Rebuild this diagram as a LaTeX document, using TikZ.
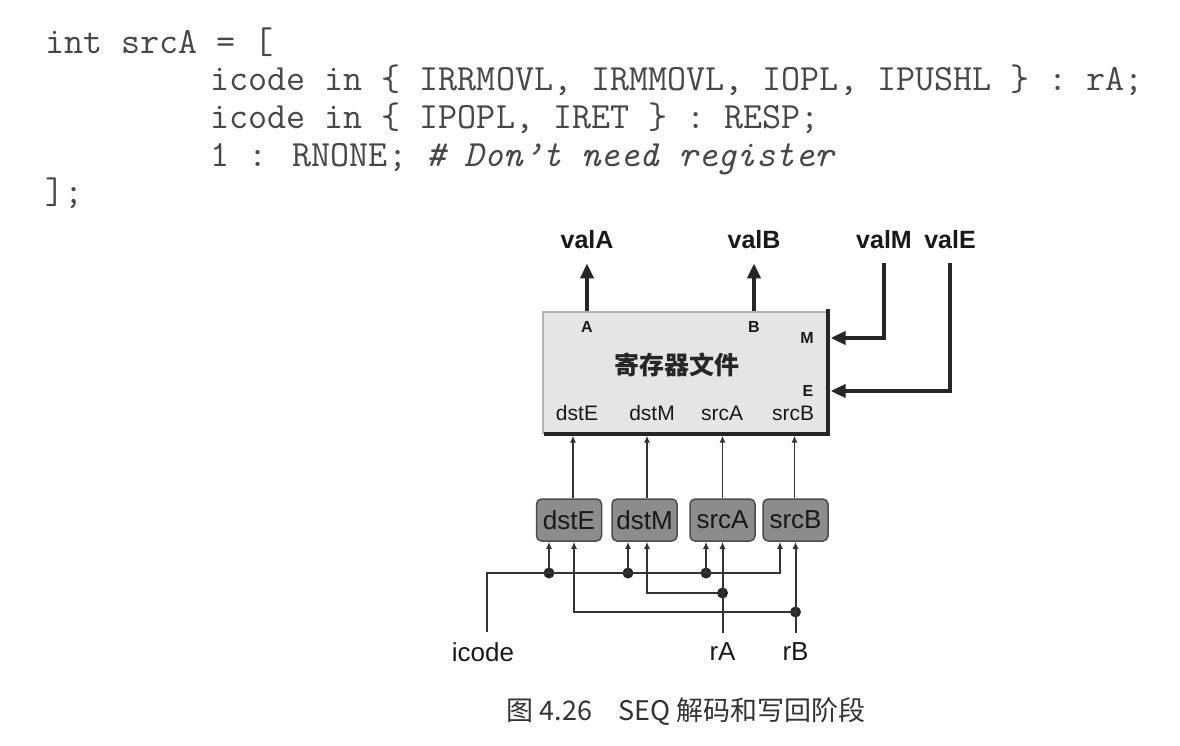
\documentclass[tikz,border=0pt]{standalone}
\usepackage{fontspec}
\setmainfont{Liberation Sans}
\newfontfamily\cjk{Noto Sans CJK SC}
\usetikzlibrary{arrows.meta}
\tikzset{
  codeline/.style={anchor=base west, inner sep=0pt, font=\ttfamily\fontsize{37}{37}\selectfont, text=black!72},
  lbl/.style={inner sep=0pt, font=\fontsize{26}{26}\selectfont, text=black!90},
  vallbl/.style={inner sep=0pt, font=\bfseries\fontsize{25}{25}\selectfont, text=black!90},
  portlbl/.style={inner sep=0pt, font=\bfseries\fontsize{16}{16}\selectfont, text=black!90},
  fieldlbl/.style={inner sep=0pt, font=\fontsize{21}{21}\selectfont, text=black!90},
  regfile/.style={fill=black!10, draw=black!30, line width=1.2pt, minimum width=284pt, minimum height=121pt, inner sep=0pt},
  hclbox/.style={rounded corners=5pt, fill=black!45, draw=black!70, line width=1.5pt, minimum width=65pt, minimum height=42pt, inner sep=0pt, font=\fontsize{26}{26}\selectfont, text=black!90},
  wire/.style={line width=2pt, draw=black!80},
  upwire/.style={line width=1.6pt, draw=black!80},
  bus/.style={line width=4.5pt, draw=black!85},
  smalltip/.style={-{Latex[length=7pt,width=6pt]}},
  bigtip/.style={-{Triangle[length=15pt,width=13pt]}},
  jdot/.style={circle, fill=black!85, minimum size=11pt, inner sep=0pt},
}
\begin{document}
\begin{tikzpicture}[x=1pt,y=-1pt]
\useasboundingbox[fill=white] (0,0) rectangle (1180,746);

% code
\node[codeline] (c1) at (45,54) {int srcA = [};
\node[codeline] (c2) at (210,91) {icode in \{ IRRMOVL, IRMMOVL, IOPL, IPUSHL \} : rA;};
\node[codeline] (c3) at (210,129) {icode in \{ IPOPL, IRET \} : RESP;};
\node[codeline] (c4) at (210,167) {1 : RNONE; \textit{\# Don’t need register}};
\node[codeline] (c5) at (45,204) {];};

% register file
\node[regfile] (rf) at (685,372.5) {};
\draw[line width=4pt, black!85] ([yshift=2pt]rf.north east) -- (rf.south east) -- ([xshift=2pt]rf.south west);
\node[portlbl] (pA) at (587,327) {A};
\node[portlbl] (pB) at (754,327) {B};
\node[portlbl] (pM) at (807,338) {M};
\node[portlbl] (pE) at (808,391) {E};
\node[inner sep=0pt, font=\cjk\bfseries\fontsize{25}{25}\selectfont, text=black!85] (rfname) at (677,365) {寄存器文件};
\node[fieldlbl] (fdstE) at (577,413) {dstE};
\node[fieldlbl] (fdstM) at (652,413) {dstM};
\node[fieldlbl] (fsrcA) at (722,413) {srcA};
\node[fieldlbl] (fsrcB) at (793,413) {srcB};

% value labels
\node[vallbl] (valA) at (587,240) {valA};
\node[vallbl] (valB) at (754,240) {valB};
\node[vallbl] (valM) at (884,240) {valM};
\node[vallbl] (valE) at (950,240) {valE};

\draw[bus,bigtip] (rf.north -| valA) -- ([yshift=-14pt]valA.south);
\draw[bus,bigtip] (rf.north -| valB) -- ([yshift=-14pt]valB.south);
\draw[bus,bigtip,line width=4pt] ([yshift=-14pt]valM.south) |- ([xshift=3pt]rf.east |- pM);
\draw[bus,bigtip,line width=4pt] ([yshift=-14pt]valE.south) |- ([xshift=3pt]rf.east |- pE);

% HCL boxes
\node[hclbox] (bdstE) at (569,520) {dstE};
\node[hclbox] (bdstM) at (644.5,520) {dstM};
\node[hclbox] (bsrcA) at (722.5,520) {srcA};
\node[hclbox] (bsrcB) at (795.5,520) {srcB};

\draw[upwire,smalltip] ([xshift=4pt]bdstE.north) -- ([xshift=4pt,yshift=-2pt]rf.south -| bdstE);
\draw[upwire,smalltip] ([xshift=2.5pt]bdstM.north) -- ([xshift=2.5pt,yshift=-2pt]rf.south -| bdstM);
\draw[upwire,smalltip] (bsrcA.north) -- ([yshift=-2pt]rf.south -| bsrcA);
\draw[upwire,smalltip] ([xshift=-1pt]bsrcB.north) -- ([xshift=-1pt,yshift=-2pt]rf.south -| bsrcB);

% inputs
\node[lbl] (icode) at (483,652) {icode};
\node[lbl] (rA) at (722.5,652) {rA};
\node[lbl] (rB) at (795.5,652) {rB};

\node[jdot] (j1) at (549,573) {};
\node[jdot] (j2) at (628,573) {};
\node[jdot] (j3) at (706,573) {};
\node[jdot] (ja) at (722.5,593) {};
\node[jdot] (jb) at (795.5,612) {};

\draw[wire] ([xshift=4pt,yshift=10pt]icode.north) |- (j1.center) -- (j3.center);
\draw[wire,smalltip] (j3.center) -| ([xshift=-15.5pt]bsrcB.south);
\draw[wire,smalltip] (j1.center) -- (j1 |- bdstE.south);
\draw[wire,smalltip] (j2.center) -- (j2 |- bdstM.south);
\draw[wire,smalltip] (j3.center) -- (j3 |- bsrcA.south);

\draw[wire,smalltip] ([yshift=10pt]rA.north) -- (bsrcA.south);
\draw[wire,smalltip] (ja.center) -| ([xshift=2.5pt]bdstM.south);
\draw[wire,smalltip] ([yshift=10pt]rB.north) -- (bsrcB.south);
\draw[wire,smalltip] (jb.center) -| ([xshift=5pt]bdstE.south);

% caption
\node[inner sep=0pt, font=\cjk\fontsize{27}{27}\selectfont, text=black!80] (cap) at (686,712) {图 4.26\hspace{26pt}SEQ 解码和写回阶段};
\end{tikzpicture}
\end{document}
